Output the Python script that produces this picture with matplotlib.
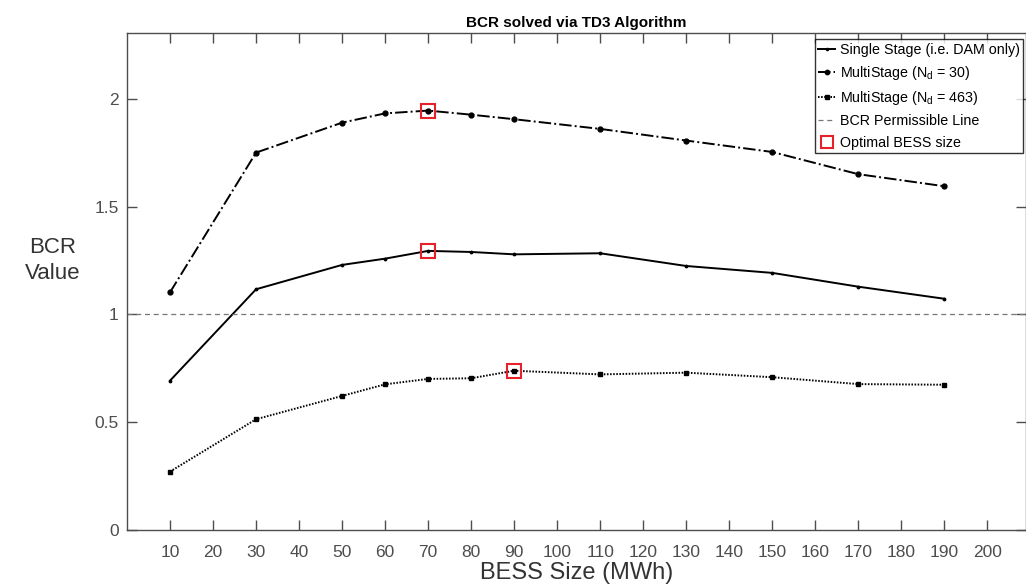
import matplotlib.pyplot as plt

plt.rcParams['font.family'] = ['Liberation Sans', 'DejaVu Sans']

# BESS sizes (MWh)
bess_size = [10, 30, 50, 60, 70, 80, 90, 110, 130, 150, 170, 190]

# BCR values
single_stage = [0.693, 1.117, 1.230, 1.259, 1.295, 1.290, 1.279, 1.284, 1.225, 1.193, 1.129, 1.073]
multi_nd30 = [1.103, 1.751, 1.890, 1.933, 1.946, 1.927, 1.906, 1.861, 1.807, 1.754, 1.651, 1.595]
multi_nd463 = [0.271, 0.514, 0.622, 0.676, 0.701, 0.704, 0.739, 0.722, 0.730, 0.709, 0.677, 0.674]

# optimal sizes
opt_x = [70, 70, 90]
opt_y = [1.946, 1.295, 0.739]

permissible = 1.0
x_ticks = list(range(10, 201, 10))
y_ticks = [0, 0.5, 1, 1.5, 2]
y_tick_labels = ["0", "0.5", "1", "1.5", "2"]

axis_grey = "#4d4d4d"

fig = plt.figure(figsize=(10.26, 5.85), dpi=100)
ax = fig.add_axes([0.1238, 0.094, 0.8762, 0.8496])

ax.plot(bess_size, single_stage, color="black", lw=1.4, marker=".", ms=3.5,
        label="Single Stage (i.e. DAM only)")
ax.plot(bess_size, multi_nd30, color="black", lw=1.4, ls="-.", marker="o", ms=3.5,
        label=r"MultiStage (N$_\mathregular{d}$ = 30)")
ax.plot(bess_size, multi_nd463, color="black", lw=1.4, ls=(0, (0.8, 0.8)), marker="s", ms=3.5,
        label=r"MultiStage (N$_\mathregular{d}$ = 463)")
ax.axhline(permissible, color="#777777", lw=0.9, ls=(0, (4, 3)), label="BCR Permissible Line")
ax.plot(opt_x, opt_y, ls="none", marker="s", ms=9.5, mfc="none", mec="#e8202a", mew=1.5,
        label="Optimal BESS size")

ax.set_xlim(0, 209)
ax.set_ylim(0, 2.306)
ax.set_xticks(x_ticks)
ax.set_yticks(y_ticks)
ax.set_yticklabels(y_tick_labels)
ax.tick_params(direction="in", length=7, width=1, colors=axis_grey, labelsize=12.5,
               top=True, right=True)
ax.tick_params(axis="x", pad=11)
ax.tick_params(axis="y", pad=6)
for sp in ax.spines.values():
    sp.set_color(axis_grey)
    sp.set_linewidth(1)

ax.set_title("BCR solved via TD3 Algorithm", fontsize=11, fontweight="bold", pad=4)
ax.set_xlabel("BESS Size (MWh)", fontsize=17, color="#333333", labelpad=1)
fig.text(0.051, 0.555, "BCR\nValue", fontsize=16, color="#333333",
         ha="center", va="center", linespacing=1.3)

leg = ax.legend(loc="upper right", bbox_to_anchor=(0.997, 0.987), fontsize=10.3,
                frameon=True, fancybox=False, edgecolor="black", handlelength=1.2,
                handletextpad=0.3, borderpad=0.25, labelspacing=0.5, borderaxespad=0,
                markerscale=0.9)
leg.get_frame().set_linewidth(1)

fig.savefig("out.png", dpi=100)
